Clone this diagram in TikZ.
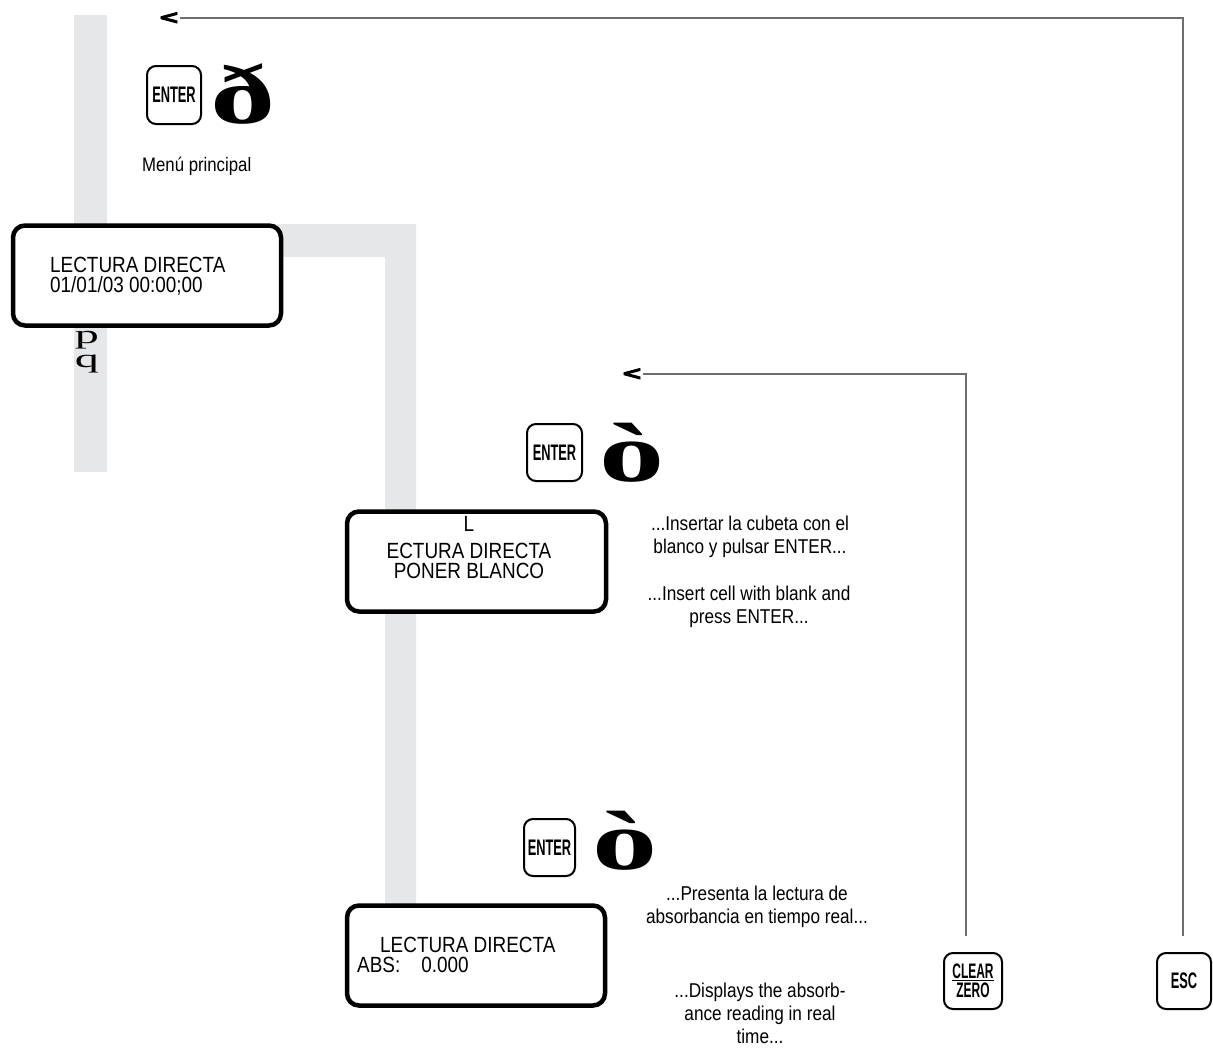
\documentclass[tikz,border=0pt]{standalone}
\usepackage{fontspec}
\usepackage{graphicx}
\setmainfont{Liberation Sans}[FakeStretch=0.86]
\newfontfamily\keyfont{Liberation Sans}[FakeStretch=0.57]
\newfontfamily\markfont{Liberation Serif}[FakeStretch=1.55]
\newfontfamily\pqfont{Liberation Serif}[FakeStretch=1.85]
\newfontfamily\tipfont{DejaVu Sans}[FakeStretch=1.35, FakeBold=4]

\definecolor{railgrey}{HTML}{E6E7E8}
\definecolor{wiregrey}{HTML}{6D6E71}

\tikzset{
  lcd/.style={draw=black, line width=4.5pt, rounded corners=12pt, fill=white, inner sep=0pt},
  keycap/.style={draw=black, line width=2pt, rounded corners=9pt, fill=white, inner sep=0pt,
    align=center, font=\keyfont\bfseries\fontsize{22.5}{19}\selectfont},
  lcdtext/.style={inner sep=0pt, font=\fontsize{22}{20}\selectfont},
  note/.style={inner sep=0pt, align=center, anchor=north, font=\fontsize{20}{23}\selectfont},
  pressmark/.style={inner sep=0pt, anchor=base, font=\markfont\bfseries\fontsize{84}{84}\selectfont},
  pqglyph/.style={inner sep=0pt, anchor=base, font=\pqfont\fontsize{26}{26}\selectfont},
  backtip/.style={inner sep=0pt, font=\tipfont\bfseries\fontsize{19}{19}\selectfont},
  link/.style={draw=wiregrey, line width=1.5pt},
}

\begin{document}
\begin{tikzpicture}[x=1pt,y=-1pt]
\useasboundingbox (0,0) rectangle (1213,1052);

% grey guide rails
\fill[railgrey] (74,15) rectangle (107,472);
\fill[railgrey] (270,224) -- (416,224) -- (416,906) -- (385,906) -- (385,257) -- (270,257) -- cycle;

% main menu entry
\node[keycap, minimum width=54pt, minimum height=58pt] (enter1) at (174,95) {ENTER};
\node[pressmark] (sym1) at (243,123) {ð};
\node[anchor=base west, inner sep=0pt, font=\fontsize{19.5}{19.5}\selectfont] (menu) at (142,171) {Menú principal};

% first display
\node[lcd, minimum width=268pt, minimum height=100pt] (lcd1) at (147,275.5) {};
\node[lcdtext, anchor=north west, align=left] (lcd1txt) at (50,256.5) {LECTURA DIRECTA\\01/01/03 00:00;00};
\node[pqglyph] (up) at (87,343) {p};
\node[pqglyph] (down) at (87,367) {q};

% blank step
\node[backtip] (back2) at (632,374) {<};
\node[keycap, minimum width=55pt, minimum height=57pt] (enter2) at (554.5,452.5) {ENTER};
\node[pressmark] (sym2) at (632,481) {ò};
\node[lcd, minimum width=259pt, minimum height=100pt] (lcd2) at (476.5,561.5) {};
\node[lcdtext, anchor=north, align=center] (lcd2txt) at (469,516.5) {L\\[7pt]ECTURA DIRECTA\\PONER BLANCO};
\node[note] (note1) at (750,515.5) {...Insertar la cubeta con el\\blanco y pulsar ENTER...};
\node[note] (note2) at (749,585.5) {...Insert cell with blank and\\press ENTER...};

% reading step
\node[keycap, minimum width=51pt, minimum height=57pt] (enter3) at (549.5,847.5) {ENTER};
\node[pressmark] (sym3) at (625,869) {ò};
\node[lcd, minimum width=258pt, minimum height=100pt] (lcd3) at (476,955.5) {};
\node[lcdtext, anchor=north west, align=left] (lcd3txt) at (357,936.5) {\hspace*{23pt}LECTURA DIRECTA\\ABS:\hspace{21pt}0.000};
\node[note] (note3) at (757,885.5) {...Presenta la lectura de\\absorbancia en tiempo real...};
\node[note] (note4) at (760,982.5) {...Displays the absorb-\\ance reading in real\\time...};

% return keys
\node[keycap, minimum width=58pt, minimum height=56pt, font=\keyfont\bfseries\fontsize{21}{19}\selectfont] (clear) at (973,981) {\underline{CLEAR}\\ZERO};
\node[keycap, minimum width=54pt, minimum height=56pt] (esc) at (1184,981) {ESC};

% return paths
\node[backtip] (back1) at (169,18) {<};
\coordinate (clearfoot) at (966,936);
\coordinate (escfoot) at (1183,936);
\draw[link] (clearfoot) |- (back2.east);
\draw[link] (escfoot) |- (back1.east);
\end{tikzpicture}
\end{document}
